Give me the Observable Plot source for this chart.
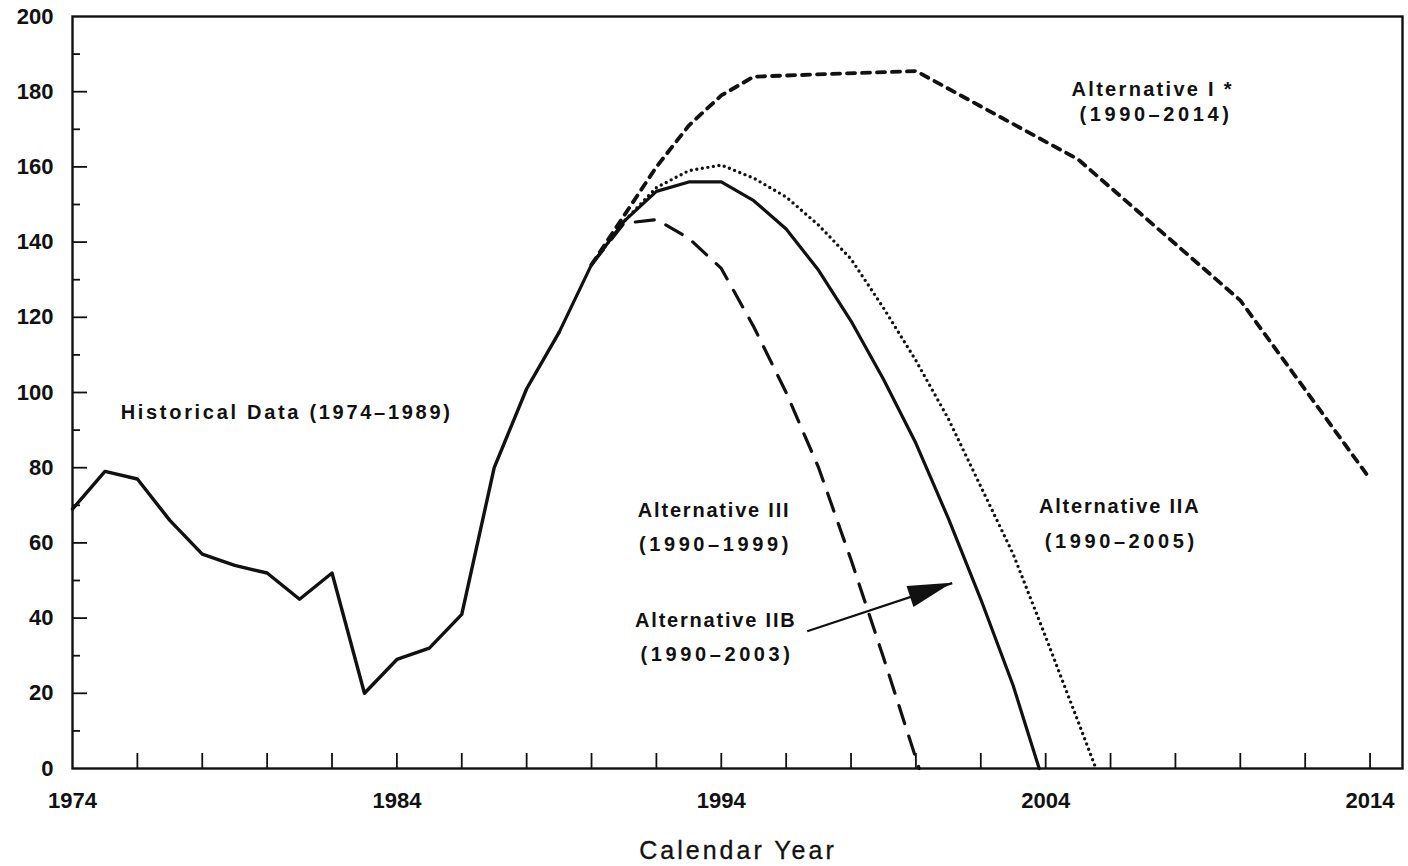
<!DOCTYPE html>
<html>
<head>
<meta charset="utf-8">
<script src="https://cdn.jsdelivr.net/npm/d3@7"></script>
<script src="https://cdn.jsdelivr.net/npm/@observablehq/plot@0.6"></script>
<style>
  html, body { margin: 0; padding: 0; background: #ffffff; }
  #chart svg { display: block; }
  #xlabel {
    font-family: "Liberation Sans", Arial, sans-serif;
    font-size: 25px;
    line-height: 1;
    letter-spacing: 3px;
    color: #111;
    text-align: center;
    margin-left: 68px;
    padding-top: 18px;
    -webkit-text-stroke: 0.3px #111;
  }
</style>
</head>
<body>
<div id="chart"></div>
<div id="xlabel">Calendar Year</div>
<script>
// ---- Data ----
const historicalYears  = [1974, 1975, 1976, 1977, 1978, 1979, 1980, 1981, 1982, 1983, 1984, 1985, 1986, 1987, 1988, 1989];
const historicalValues = [69, 79, 77, 66, 57, 54, 52, 45, 52, 20, 29, 32, 41, 80, 101, 116];

// Alternative IIB (1990-2003), solid
const altIIBYears  = [1989, 1990, 1991, 1992, 1993, 1994, 1995, 1996, 1997, 1998, 1999, 2000, 2001, 2002, 2003, 2003.8];
const altIIBValues = [116, 134, 145.5, 153.5, 156, 156, 151, 143.5, 132.5, 119, 103.5, 86.5, 66.5, 45, 22, 0];

// Alternative IIA (1990-2005), dotted
const altIIAYears  = [1990, 1991, 1992, 1993, 1994, 1995, 1996, 1997, 1998, 1999, 2000, 2001, 2002, 2003, 2004, 2005, 2005.55];
const altIIAValues = [134, 145.5, 154.5, 159, 160.5, 157, 152, 144.5, 135.5, 122.5, 108.5, 93, 75, 57, 35, 12.5, 0];

// Alternative III (1990-1999), long dashes
const altIIIYears  = [1990, 1991, 1992, 1993, 1994, 1995, 1996, 1997, 1998, 1999, 2000.1];
const altIIIValues = [134, 145, 146, 141, 133, 117.5, 100, 80, 55.5, 29.5, 0];

// Alternative I (1990-2014), short dashes
const altIYears  = [1990, 1991, 1992, 1993, 1994, 1995, 2000, 2005, 2010, 2014];
const altIValues = [134, 147, 160, 171, 179, 184, 185.5, 162, 124.5, 77];

// Axis ticks
const xTickYears  = [1976, 1978, 1980, 1982, 1984, 1986, 1988, 1990, 1992, 1994, 1996, 1998, 2000, 2002, 2004, 2006, 2008, 2010, 2012, 2014];
const xLabelYears = [1974, 1984, 1994, 2004, 2014];
const yMajorTicks = [20, 40, 60, 80, 100, 120, 140, 160, 180];
const yMinorTicks = [10, 30, 50, 70, 90, 110, 130, 150, 170, 190];
const yLabels     = [0, 20, 40, 60, 80, 100, 120, 140, 160, 180, 200];

// Annotations (data coordinates)
const annotationTexts = ["Historical Data (1974–1989)", "Alternative I *", "(1990–2014)", "Alternative III", "(1990–1999)", "Alternative IIA", "(1990–2005)", "Alternative IIB", "(1990–2003)"];
const annotationYears = [1980.6, 2007.3, 2007.4, 1993.78, 1993.82, 2006.28, 2006.33, 1993.83, 1993.87];
const annotationVals  = [94.7, 180.6, 173.9, 68.6, 59.6, 69.7, 60.4, 39.4, 30.4];
const annotationSpacing = [2.7, 2.3, 3.6, 1.8, 3.6, 1.8, 3.6, 1.8, 3.6];

// Arrow from the IIB label to the solid line
const arrowFrom = {year: 1996.65, value: 36.5};
const arrowTo   = {year: 2001.12, value: 49.3};

// ---- Build tables ----
const toRows = (ys, vs) => ys.map((y, i) => ({year: y, value: vs[i]}));
const historical = toRows(historicalYears, historicalValues);
const altIIB = toRows(altIIBYears, altIIBValues);
const altIIA = toRows(altIIAYears, altIIAValues);
const altIII = toRows(altIIIYears, altIIIValues);
const altI = toRows(altIYears, altIValues);
const annotations = annotationTexts.map((t, i) => ({text: t, year: annotationYears[i], value: annotationVals[i]}));

const FONT = "Liberation Sans, Arial, sans-serif";

const plot = Plot.plot({
  width: 1408,
  height: 820,
  marginLeft: 72,
  marginRight: 6,
  marginTop: 16,
  marginBottom: 52,
  style: {fontFamily: FONT, background: "#ffffff", color: "#111"},
  x: {domain: [1974, 2015]},
  y: {domain: [0, 200]},
  marks: [
    Plot.frame({stroke: "#111", strokeWidth: 2.4}),
    // inward ticks
    Plot.axisX(xTickYears, {tickSize: -15, tickFormat: () => null, strokeWidth: 1.8, stroke: "#111", label: null}),
    Plot.axisY(yMajorTicks, {tickSize: -15, tickFormat: () => null, strokeWidth: 1.8, stroke: "#111", label: null}),
    Plot.axisY(yMinorTicks, {tickSize: -8, tickFormat: () => null, strokeWidth: 1.8, stroke: "#111", label: null}),
    // tick labels
    Plot.axisX(xLabelYears, {tickSize: 0, tickPadding: 24, tickFormat: d => String(d), fontSize: 22, fontWeight: "bold", fill: "#111", label: null}),
    Plot.axisY(yLabels, {tickSize: 0, tickPadding: 19, tickFormat: d => String(d), fontSize: 22, fontWeight: "bold", fill: "#111", label: null}),
    // series
    Plot.line(historical, {x: "year", y: "value", stroke: "#111", strokeWidth: 3.4, strokeLinejoin: "round"}),
    Plot.line(altIIB, {x: "year", y: "value", stroke: "#111", strokeWidth: 3.2, strokeLinejoin: "round"}),
    Plot.line(altIIA, {x: "year", y: "value", stroke: "#111", strokeWidth: 3.4, strokeDasharray: "0,5.6", strokeLinecap: "round"}),
    Plot.line(altIII, {x: "year", y: "value", stroke: "#111", strokeWidth: 3.2, strokeDasharray: "19,13"}),
    Plot.line(altI, {x: "year", y: "value", stroke: "#111", strokeWidth: 3.8, strokeDasharray: "8,7"}),
    // annotations
    Plot.text(annotations, {x: "year", y: "value", text: "text", fontSize: 20, fontWeight: "bold", fill: "#111", textAnchor: "middle", lineAnchor: "middle"}),
    Plot.link([{x1: arrowFrom.year, y1: arrowFrom.value, x2: arrowTo.year, y2: arrowTo.value}], {x1: "x1", y1: "y1", x2: "x2", y2: "y2", stroke: "#111", strokeWidth: 2.2})
  ]
});

// Letter spacing for the annotation texts (wide lettering of the original)
d3.select(plot).selectAll("text").each(function() {
  const i = annotationTexts.indexOf(this.textContent);
  if (i >= 0) {
    d3.select(this).attr("letter-spacing", annotationSpacing[i] + "px");
  }
});

// Filled arrow head positioned through the plot's own scales
(function addArrowHead() {
  const sx = plot.scale("x"), sy = plot.scale("y");
  const fx = sx.apply ? sx.apply.bind(sx) : d3.scaleLinear(sx.domain, sx.range);
  const fy = sy.apply ? sy.apply.bind(sy) : d3.scaleLinear(sy.domain, sy.range);
  const x1 = fx(arrowFrom.year), y1 = fy(arrowFrom.value);
  const tx = fx(arrowTo.year), ty = fy(arrowTo.value);
  const len = Math.hypot(tx - x1, ty - y1);
  const ux = (tx - x1) / len, uy = (ty - y1) / len;
  const nx = -uy, ny = ux;
  const headLen = 44, halfW = 11;
  const bx = tx - ux * headLen, by = ty - uy * headLen;
  d3.select(plot).append("path")
    .attr("d", `M${tx},${ty}L${bx + nx * halfW},${by + ny * halfW}L${bx - nx * halfW},${by - ny * halfW}Z`)
    .attr("fill", "#111");
})();

document.getElementById("chart").appendChild(plot);
</script>
</body>
</html>
